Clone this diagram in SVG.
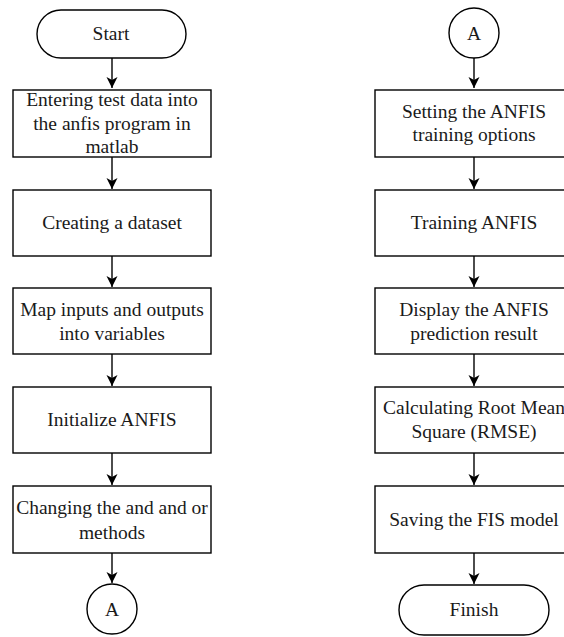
<svg xmlns="http://www.w3.org/2000/svg" width="564" height="637" viewBox="0 0 564 637">
<defs>
<style>
.shape{fill:#fff;stroke:#000;stroke-width:1.4}
.t{font-family:"Times New Roman",Times,"Liberation Serif","DejaVu Serif",serif;font-size:19.5px;fill:#1a1a1a;text-anchor:middle}
.c{fill:none;stroke:#000;stroke-width:1.4}
</style>
<marker id="ah" markerUnits="userSpaceOnUse" markerWidth="12" markerHeight="12" viewBox="0 0 12 12" refX="11" refY="6" orient="auto">
<path d="M0,0.5 L11,6 L0,11.5 L3,6 Z" fill="#000"/>
</marker>
</defs>
<rect width="564" height="637" fill="#fff"/>
<g id="connectors">
<path class="c" d="M112,58 V88" marker-end="url(#ah)"/>
<path class="c" d="M112,157 V189" marker-end="url(#ah)"/>
<path class="c" d="M112,256 V287" marker-end="url(#ah)"/>
<path class="c" d="M112,354 V386" marker-end="url(#ah)"/>
<path class="c" d="M112,453 V485" marker-end="url(#ah)"/>
<path class="c" d="M112,553 V583" marker-end="url(#ah)"/>
<path class="c" d="M474,58 V88" marker-end="url(#ah)"/>
<path class="c" d="M474,157 V189" marker-end="url(#ah)"/>
<path class="c" d="M474,256 V287" marker-end="url(#ah)"/>
<path class="c" d="M474,354 V386" marker-end="url(#ah)"/>
<path class="c" d="M474,453 V485" marker-end="url(#ah)"/>
<path class="c" d="M474,553 V584" marker-end="url(#ah)"/>
</g>
<g id="start">
<rect class="shape" x="37" y="10" width="149" height="48" rx="24" ry="24"/>
<text class="t" x="111" y="40">Start</text>
</g>
<g id="enter">
<rect class="shape" x="13" y="90" width="198" height="67"/>
<text class="t" x="112" y="106">Entering test data into</text>
<text class="t" x="112" y="129.5">the anfis program in</text>
<text class="t" x="112" y="153">matlab</text>
</g>
<g id="dataset">
<rect class="shape" x="13" y="190" width="198" height="66"/>
<text class="t" x="112" y="229">Creating a dataset</text>
</g>
<g id="map">
<rect class="shape" x="13" y="288" width="198" height="66"/>
<text class="t" x="112" y="316">Map inputs and outputs</text>
<text class="t" x="112" y="340">into variables</text>
</g>
<g id="init">
<rect class="shape" x="13" y="387" width="198" height="66"/>
<text class="t" x="112" y="426">Initialize ANFIS</text>
</g>
<g id="change">
<rect class="shape" x="13" y="486" width="198" height="67"/>
<text class="t" x="112" y="514">Changing the and and or</text>
<text class="t" x="112" y="539">methods</text>
</g>
<g id="connA1">
<circle class="shape" cx="112" cy="609" r="25"/>
<text class="t" x="112" y="616">A</text>
</g>
<g id="connA2">
<circle class="shape" cx="474" cy="33" r="25"/>
<text class="t" x="474" y="40">A</text>
</g>
<g id="options">
<rect class="shape" x="375" y="90" width="198" height="67"/>
<text class="t" x="474" y="118">Setting the ANFIS</text>
<text class="t" x="474" y="141">training options</text>
</g>
<g id="training">
<rect class="shape" x="375" y="190" width="198" height="66"/>
<text class="t" x="474" y="229">Training ANFIS</text>
</g>
<g id="display">
<rect class="shape" x="375" y="288" width="198" height="66"/>
<text class="t" x="474" y="316">Display the ANFIS</text>
<text class="t" x="474" y="340">prediction result</text>
</g>
<g id="rmse">
<rect class="shape" x="375" y="387" width="198" height="66"/>
<text class="t" x="474" y="414">Calculating Root Mean</text>
<text class="t" x="474" y="438">Square (RMSE)</text>
</g>
<g id="save">
<rect class="shape" x="375" y="486" width="198" height="67"/>
<text class="t" x="474" y="526">Saving the FIS model</text>
</g>
<g id="finish">
<rect class="shape" x="399" y="585" width="150" height="50" rx="25" ry="25"/>
<text class="t" x="474" y="616">Finish</text>
</g>
</svg>
